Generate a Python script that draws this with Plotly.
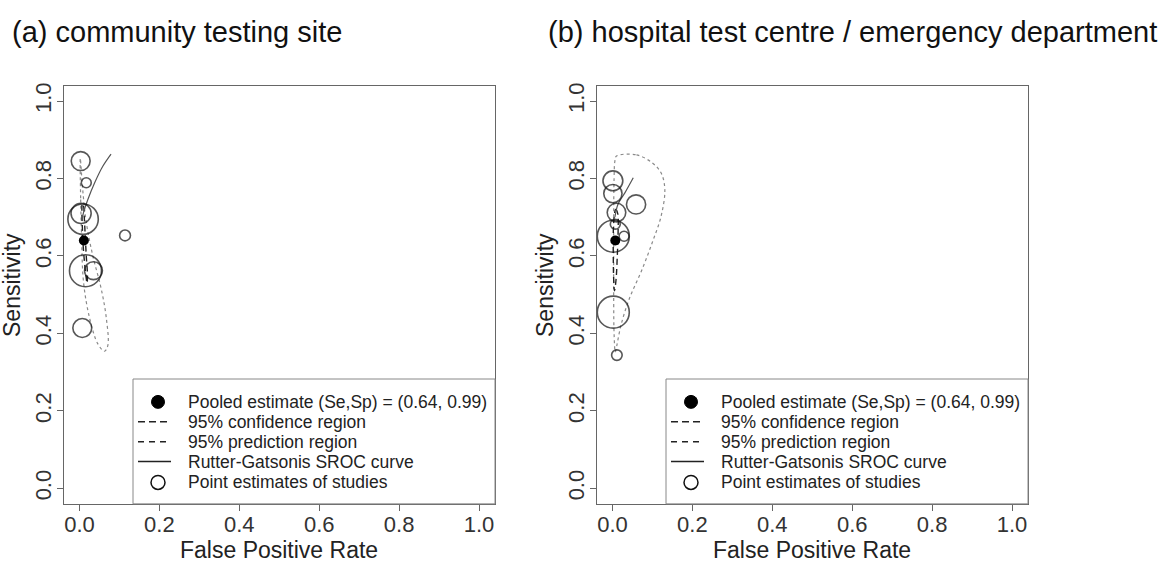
import plotly.graph_objects as go

# ---------------- data ----------------
titles = ["(a) community testing site", "(b) hospital test centre / emergency department"]

# panel (a): study point estimates
fpr_a = [0.003, 0.017, 0.004, 0.009, 0.114, 0.015, 0.035, 0.007]
se_a = [0.845, 0.789, 0.710, 0.695, 0.653, 0.562, 0.562, 0.414]
wt_a = [0.59, 0.31, 0.63, 0.95, 0.34, 1.00, 0.56, 0.59]     # relative study weight
pooled_a = (0.011, 0.640)
sroc_fpr_a = [0.006, 0.010, 0.021, 0.038, 0.058, 0.079]
sroc_se_a = [0.690, 0.712, 0.746, 0.789, 0.831, 0.863]
conf_fpr_a = [0.007, 0.010, 0.012, 0.014, 0.017, 0.020, 0.019, 0.016, 0.012, 0.009, 0.007, 0.006, 0.007]
conf_se_a = [0.735, 0.730, 0.700, 0.660, 0.600, 0.550, 0.530, 0.550, 0.590, 0.630, 0.680, 0.720, 0.735]
pred_fpr_a = [0.002, 0.003, 0.005, 0.010, 0.025, 0.046, 0.0625, 0.071, 0.067, 0.054, 0.033, 0.017, 0.008, 0.002]
pred_se_a = [0.852, 0.746, 0.662, 0.534, 0.441, 0.373, 0.354, 0.369, 0.441, 0.517, 0.602, 0.687, 0.772, 0.852]

# panel (b): study point estimates
fpr_b = [0.001, 0.001, 0.010, 0.059, 0.007, 0.029, 0.002, 0.002, 0.011]
se_b = [0.794, 0.761, 0.712, 0.733, 0.682, 0.651, 0.651, 0.455, 0.344]
wt_b = [0.62, 0.57, 0.58, 0.60, 0.31, 0.31, 1.00, 1.00, 0.33]
pooled_b = (0.007, 0.640)
sroc_fpr_b = [0.006, 0.014, 0.031, 0.052]
sroc_se_b = [0.700, 0.734, 0.763, 0.802]
conf_fpr_b = [0.004, 0.008, 0.013, 0.014, 0.012, 0.009, 0.005, 0.003, 0.002, 0.002, 0.004]
conf_se_b = [0.700, 0.720, 0.710, 0.660, 0.600, 0.540, 0.510, 0.540, 0.600, 0.660, 0.700]
pred_fpr_b = [0.010, 0.060, 0.100, 0.122, 0.131, 0.122, 0.100, 0.072, 0.043, 0.022, 0.010, 0.007,
              0.004, 0.003, 0.003, 0.003, 0.004, 0.006, 0.010]
pred_se_b = [0.858, 0.861, 0.840, 0.814, 0.772, 0.704, 0.636, 0.560, 0.492, 0.424, 0.365, 0.352,
             0.400, 0.500, 0.600, 0.700, 0.800, 0.845, 0.858]

tick_vals = [0.0, 0.2, 0.4, 0.6, 0.8, 1.0]
tick_text = ["0.0", "0.2", "0.4", "0.6", "0.8", "1.0"]
legend_labels = ["Pooled estimate (Se,Sp) = (0.64, 0.99)", "95% confidence region",
                 "95% prediction region", "Rutter-Gatsonis SROC curve", "Point estimates of studies"]
x_title = "False Positive Rate"
y_title = "Sensitivity"

# ---------------- layout helpers ----------------
W, H = 1165, 570
FONT = "Liberation Sans, Arial, Helvetica, sans-serif"
def px(x):
    return x / W
def py(y):
    return 1 - y / H

panels = [
    dict(fpr=fpr_a, se=se_a, wt=wt_a, pooled=pooled_a, sroc=(sroc_fpr_a, sroc_se_a),
         conf=(conf_fpr_a, conf_se_a), pred=(pred_fpr_a, pred_se_a), left=63.5, right=495,
         title_x=10, xa="x", ya="y"),
    dict(fpr=fpr_b, se=se_b, wt=wt_b, pooled=pooled_b, sroc=(sroc_fpr_b, sroc_se_b),
         conf=(conf_fpr_b, conf_se_b), pred=(pred_fpr_b, pred_se_b), left=596.5, right=1028,
         title_x=546, xa="x2", ya="y2"),
]
TOP, BOTTOM = 83, 503.5

fig = go.Figure()
shapes, annots = [], []
for i, p in enumerate(panels):
    xa, ya = p["xa"], p["ya"]
    fig.add_trace(go.Scatter(x=p["pred"][0], y=p["pred"][1], mode="lines", xaxis=xa, yaxis=ya,
                             line=dict(color="#8a8a8a", width=1.2, dash="dot", shape="spline"),
                             showlegend=False, hoverinfo="skip"))
    fig.add_trace(go.Scatter(x=p["conf"][0], y=p["conf"][1], mode="lines", xaxis=xa, yaxis=ya,
                             line=dict(color="#222", width=1.4, dash="6px,4px", shape="spline"),
                             showlegend=False, hoverinfo="skip"))
    fig.add_trace(go.Scatter(x=p["sroc"][0], y=p["sroc"][1], mode="lines", xaxis=xa, yaxis=ya,
                             line=dict(color="#555", width=1.2, shape="spline"),
                             showlegend=False, hoverinfo="skip"))
    fig.add_trace(go.Scatter(x=p["fpr"], y=p["se"], mode="markers", xaxis=xa, yaxis=ya,
                             marker=dict(symbol="circle", size=[w * 32 for w in p["wt"]],
                                         color="rgba(0,0,0,0)", line=dict(width=1.6, color="#111")),
                             showlegend=False))
    fig.add_trace(go.Scatter(x=[p["pooled"][0]], y=[p["pooled"][1]], mode="markers", xaxis=xa, yaxis=ya,
                             marker=dict(symbol="circle", size=10, color="#000"),
                             showlegend=False))

    # title
    annots.append(dict(x=px(p["title_x"]), y=py(29), xref="paper", yref="paper", text=titles[i],
                       showarrow=False, xanchor="left", yanchor="middle",
                       font=dict(size=29, color="#111", family=FONT)))
    # axis titles
    cx = (p["left"] + p["right"]) / 2
    annots.append(dict(x=px(cx), y=py(550), xref="paper", yref="paper", text=x_title,
                       showarrow=False, xanchor="center", yanchor="middle",
                       font=dict(size=23, color="#222", family=FONT)))
    annots.append(dict(x=px(p["left"] - 52), y=py(284), xref="paper", yref="paper", text=y_title,
                       showarrow=False, xanchor="center", yanchor="middle", textangle=-90,
                       font=dict(size=23, color="#222", family=FONT)))

    # legend box (bottom right of the panel)
    lx0 = p["right"] - 362
    shapes.append(dict(type="rect", xref="paper", yref="paper", x0=px(lx0), x1=px(p["right"]),
                       y0=py(BOTTOM), y1=py(378), line=dict(color="#888", width=1), fillcolor="white",
                       layer="above"))
    rows = [401, 421, 441, 461, 482]
    sx = lx0 + 25
    shapes.append(dict(type="circle", xref="paper", yref="paper", x0=px(sx - 6.5), x1=px(sx + 6.5),
                       y0=py(rows[0] + 6.5), y1=py(rows[0] - 6.5), fillcolor="#000",
                       line=dict(color="#000", width=1), layer="above"))
    shapes.append(dict(type="line", xref="paper", yref="paper", x0=px(lx0 + 5), x1=px(lx0 + 38),
                       y0=py(rows[1]), y1=py(rows[1]), line=dict(color="#222", width=1.4, dash="7px,4px"),
                       layer="above"))
    shapes.append(dict(type="line", xref="paper", yref="paper", x0=px(lx0 + 5), x1=px(lx0 + 38),
                       y0=py(rows[2]), y1=py(rows[2]), line=dict(color="#222", width=1.4, dash="6px,5px"),
                       layer="above"))
    shapes.append(dict(type="line", xref="paper", yref="paper", x0=px(lx0 + 5), x1=px(lx0 + 38),
                       y0=py(rows[3]), y1=py(rows[3]), line=dict(color="#222", width=1.4),
                       layer="above"))
    shapes.append(dict(type="circle", xref="paper", yref="paper", x0=px(sx - 7), x1=px(sx + 7),
                       y0=py(rows[4] + 7), y1=py(rows[4] - 7), line=dict(color="#111", width=1.5),
                       layer="above"))
    for r, lab in zip(rows, legend_labels):
        annots.append(dict(x=px(lx0 + 53), y=py(r), xref="paper", yref="paper", text=lab,
                           showarrow=False, xanchor="left", yanchor="middle",
                           font=dict(size=17.5, color="#222", family=FONT)))

axis_common = dict(range=[-0.04, 1.04], tickvals=tick_vals, ticktext=tick_text, ticks="outside",
                   ticklen=6, tickcolor="#666", tickwidth=1, showline=True, linecolor="#666",
                   linewidth=1, mirror=True, showgrid=False, zeroline=False,
                   tickfont=dict(size=22, color="#333", family=FONT))
layout = dict(width=W, height=H, margin=dict(l=0, r=0, t=0, b=0), plot_bgcolor="white",
              paper_bgcolor="white", showlegend=False, shapes=shapes, annotations=annots)
for i, p in enumerate(panels):
    sfx = "" if i == 0 else "2"
    layout["xaxis" + sfx] = dict(axis_common, domain=[px(p["left"]), px(p["right"])],
                                 anchor="y" + sfx, ticklabelstandoff=-5)
    layout["yaxis" + sfx] = dict(axis_common, domain=[py(BOTTOM), py(TOP)], anchor="x" + sfx,
                                 tickangle=-90, ticklabelstandoff=-3)
fig.update_layout(**layout)
fig.write_html("out.html", config={"displayModeBar": False},
               post_script="document.body.style.margin='0';document.body.style.overflow='hidden';")
